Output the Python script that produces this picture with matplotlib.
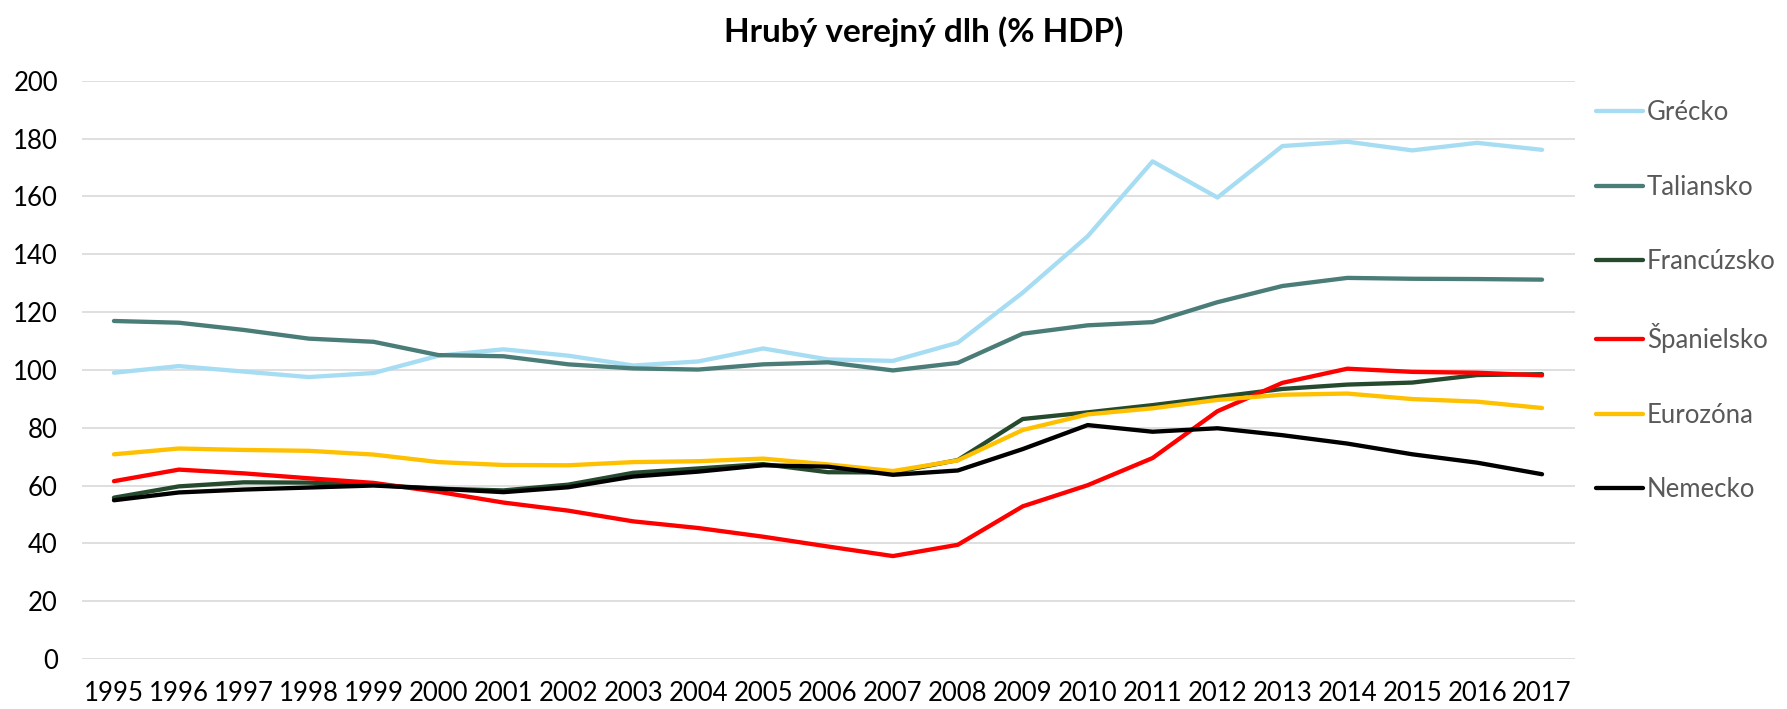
import matplotlib
matplotlib.use("Agg")
import matplotlib.pyplot as plt

years = list(range(1995, 2018))
greece = [99.0, 101.3, 99.4, 97.5, 98.9, 104.9, 107.1, 104.9, 101.5, 102.9, 107.4, 103.6, 103.1, 109.4, 126.7, 146.2, 172.1, 159.6, 177.4, 178.9, 175.9, 178.5, 176.1]
italy = [116.9, 116.3, 113.8, 110.8, 109.7, 105.1, 104.7, 101.9, 100.5, 100.1, 101.9, 102.6, 99.8, 102.4, 112.5, 115.4, 116.5, 123.4, 129.0, 131.8, 131.5, 131.4, 131.2]
france = [55.8, 59.7, 61.1, 61.0, 60.2, 58.9, 58.3, 60.3, 64.4, 65.9, 67.4, 64.6, 64.5, 68.8, 83.0, 85.3, 87.8, 90.6, 93.4, 94.9, 95.6, 98.2, 98.5]
spain = [61.5, 65.5, 64.2, 62.5, 60.9, 57.8, 54.1, 51.3, 47.6, 45.3, 42.3, 38.9, 35.6, 39.5, 52.8, 60.1, 69.5, 85.7, 95.5, 100.4, 99.3, 99.0, 98.1]
eurozone = [70.8, 72.8, 72.3, 72.0, 70.7, 68.1, 67.1, 67.0, 68.1, 68.4, 69.3, 67.3, 65.0, 68.7, 79.2, 84.6, 86.7, 89.6, 91.4, 91.8, 89.9, 89.0, 86.8]
germany = [54.9, 57.6, 58.6, 59.3, 60.0, 58.9, 57.7, 59.4, 63.1, 64.8, 67.0, 66.5, 63.7, 65.2, 72.6, 80.9, 78.6, 79.8, 77.4, 74.5, 70.8, 67.9, 63.9]

series_names = ["Grécko", "Taliansko", "Francúzsko", "Španielsko", "Eurozóna", "Nemecko"]
series_values = [greece, italy, france, spain, eurozone, germany]
series_colors = ["#A6DDF3", "#4A7C78", "#254A2E", "#FF0000", "#FFC000", "#000000"]
title = "Hrubý verejný dlh (% HDP)"
yticks = list(range(0, 201, 20))

plt.rcParams['font.family'] = ['Lato', 'DejaVu Sans']

fig = plt.figure(figsize=(17.87, 7.09), dpi=100)
ax = fig.add_axes([81.5/1787, 1-659/709, (1574.5-81.5)/1787, (659-80.7)/709])

x = list(range(len(years)))
for name, vals, col in zip(series_names, series_values, series_colors):
    ax.plot(x, vals, color=col, lw=3.1, label=name, solid_capstyle='round', solid_joinstyle='round')

ax.set_xlim(-0.5, len(years) - 0.5)
ax.set_ylim(0, 200)
ax.set_yticks(yticks)
ax.set_xticks(x)
ax.set_xticklabels([str(y) for y in years])
ax.grid(axis='y', color='#D9D9D9', lw=1.2)
ax.set_axisbelow(True)
for s in ax.spines.values():
    s.set_visible(False)
ax.tick_params(axis='both', length=0, labelsize=18.5, colors='#000000')
ax.tick_params(axis='x', pad=16)
ax.tick_params(axis='y', pad=17)

leg = ax.legend(loc='upper left', bbox_to_anchor=(1.0144, 0.966), frameon=False,
                fontsize=18.5, handlelength=1.83, handletextpad=0.15, labelspacing=1.92,
                borderaxespad=0, borderpad=0)
for t in leg.get_texts():
    t.set_color('#595959')

fig.text(924/1787, 1-32/709, title, ha='center', va='center', fontsize=24, fontweight='bold')

fig.savefig("out.png", dpi=100)
